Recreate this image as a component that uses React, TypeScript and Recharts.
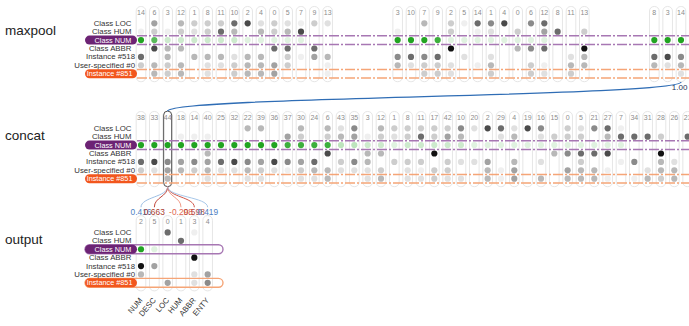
import React from "react";
import { ScatterChart, Scatter, XAxis, YAxis, ReferenceArea, ReferenceLine } from "recharts";

const rowLabels = ["Class LOC", "Class HUM", "Class NUM", "Class ABBR", "Instance #518", "User-specified #0", "Instance #851"];

// maxpool units come in three groups
const maxpoolUnits = [
  [14, 6, 3, 12, 1, 8, 11, 10, 2, 4, 0, 5, 7, 9, 13],
  [3, 10, 7, 9, 2, 5, 14, 1, 4, 0, 6, 12, 8, 11, 13],
  [8, 3, 14],
];
// shade level 0 (no dot) .. 9 (strongest), one row per label
const maxpoolLevels = [
  [0, 5, 0, 4, 3, 3, 3, 7, 8, 2, 3, 2, 1, 3, 2, 0, 0, 4, 0, 3, 1, 7, 6, 8, 0, 6, 7, 0, 0, 0, 0, 0, 0],
  [1, 3, 1, 3, 2, 3, 7, 4, 0, 4, 3, 4, 8, 0, 0, 1, 0, 0, 0, 3, 0, 1, 2, 0, 3, 0, 5, 7, 0, 3, 0, 0, 0],
  [9, 7, 2, 2, 2, 2, 2, 2, 1, 1, 1, 1, 1, 0, 0, 9, 9, 9, 8, 1, 1, 1, 1, 1, 1, 1, 1, 0, 0, 0, 9, 9, 9],
  [0, 8, 4, 4, 0, 0, 0, 0, 0, 0, 7, 7, 0, 7, 0, 0, 0, 0, 0, 9, 0, 0, 0, 0, 4, 6, 7, 0, 0, 9, 0, 0, 0],
  [7, 0, 4, 0, 4, 4, 4, 2, 4, 4, 0, 3, 1, 5, 4, 6, 7, 6, 7, 0, 2, 0, 2, 0, 0, 0, 0, 0, 2, 4, 7, 8, 6],
  [3, 4, 3, 4, 0, 2, 2, 3, 4, 4, 5, 3, 0, 0, 1, 4, 2, 3, 3, 2, 0, 1, 4, 0, 0, 3, 1, 0, 4, 4, 4, 2, 4],
  [0, 4, 3, 4, 0, 2, 0, 3, 4, 4, 5, 0, 0, 0, 1, 0, 0, 3, 3, 2, 0, 0, 3, 0, 0, 3, 2, 0, 3, 0, 0, 0, 2],
];

const concatUnits = [38, 33, 44, 18, 14, 40, 25, 32, 22, 39, 36, 37, 30, 24, 6, 43, 35, 3, 12, 1, 8,
  11, 17, 42, 10, 20, 2, 29, 4, 19, 16, 15, 0, 5, 21, 27, 7, 34, 31, 28, 26, 23];
const concatLevels = [
  [0, 0, 0, 0, 0, 0, 0, 0, 4, 4, 0, 0, 4, 0, 4, 2, 6, 0, 4, 3, 3, 3, 3, 3, 6, 2, 8, 7, 2, 8, 6, 0, 3, 2, 6, 7, 1, 0, 0, 0, 0, 0],
  [0, 0, 0, 1, 1, 1, 0, 0, 0, 0, 0, 5, 3, 0, 3, 4, 5, 1, 3, 2, 3, 7, 3, 5, 4, 0, 0, 2, 4, 0, 2, 3, 3, 3, 0, 4, 7, 7, 7, 3, 0, 7],
  [9, 9, 9, 9, 9, 9, 9, 9, 9, 9, 9, 8, 8, 8, 8, 3, 3, 2, 2, 1, 2, 2, 2, 2, 2, 1, 1, 1, 1, 1, 1, 1, 1, 1, 1, 1, 1, 0, 0, 0, 0, 0],
  [0, 0, 0, 0, 0, 4, 0, 0, 0, 0, 0, 0, 0, 0, 8, 0, 0, 4, 4, 0, 0, 0, 9, 0, 0, 0, 0, 0, 0, 0, 0, 4, 6, 7, 7, 8, 0, 0, 0, 9, 0, 0],
  [7, 8, 6, 5, 6, 5, 7, 8, 6, 5, 8, 6, 5, 7, 0, 3, 6, 4, 0, 3, 3, 3, 0, 3, 2, 2, 5, 0, 4, 0, 2, 0, 0, 3, 0, 0, 1, 6, 0, 4, 2, 0],
  [3, 2, 5, 4, 3, 4, 2, 2, 4, 3, 2, 1, 3, 4, 4, 2, 2, 2, 3, 0, 2, 1, 3, 3, 0, 0, 4, 1, 5, 0, 0, 0, 5, 4, 4, 1, 0, 0, 2, 4, 4, 0],
  [0, 0, 4, 0, 0, 2, 0, 0, 2, 2, 0, 0, 2, 2, 4, 0, 0, 2, 4, 0, 2, 2, 3, 2, 2, 0, 4, 1, 5, 0, 4, 0, 4, 4, 4, 1, 0, 1, 4, 3, 4, 0],
];

const outputUnits = [2, 5, 0, 1, 3, 4];
const outputClasses = ["NUM", "DESC", "LOC", "HUM", "ABBR", "ENTY"];
const outputLevels = [
  [0, 0, 7, 0, 1, 0],
  [0, 0, 0, 7, 0, 0],
  [9, 1, 0, 0, 0, 0],
  [0, 0, 0, 0, 9, 0],
  [9, 5, 0, 0, 0, 0],
  [4, 0, 0, 0, 2, 5],
  [0, 0, 5, 0, 2, 6],
];
// weights from the selected concat unit into each output unit
const outputWeights = [0.416, 0.663, null, -0.298, 0.598, 0.419];

const selectedConcatUnit = 44;
const maxpoolLinkValue = "1.00";

// ---- layout ----
const W = 689;
const H = 326;
const COL = 13.333;
const ROW = 8.4;
const X0 = 141;
const Y0 = 23.3;
const GROUP_STEP = 19.25;
const BASE = { maxpool: 0, concat: 12.5, output: 24.9 };

const GRAY = ["", "#efefef", "#e0e0e0", "#cdcdcd", "#b8b8b8", "#a2a2a2", "#8a8a8a", "#6c6c6c", "#4a4a4a", "#111111"];
const GREEN = ["", "#e0f2e0", "#cdeacd", "#bde4bd", "#a6daa6", "#8ccf8c", "#72c472", "#5bba5b", "#3daf3d", "#22a422"];
const PURPLE = "#6c2374";
const PURPLE_LINE = "#a777b3";
const ORANGE = "#f2561d";
const ORANGE_LINE = "#f5a577";
const FONT = "'Liberation Sans', Arial, sans-serif";

const maxpoolX = maxpoolUnits.flatMap((g, gi) => g.map((_, j) => gi * GROUP_STEP + j));
const concatX = concatUnits.map((_, i) => i);
const outputX = outputUnits.map((_, i) => i);
const labelX = (135 - X0) / COL;

const panels = [
  { name: "maxpool", base: BASE.maxpool, xs: maxpoolX, units: maxpoolUnits.flat(), levels: maxpoolLevels },
  { name: "concat", base: BASE.concat, xs: concatX, units: concatUnits, levels: concatLevels },
  { name: "output", base: BASE.output, xs: outputX, units: outputUnits, levels: outputLevels },
];

const dots: any[] = [];
const texts: any[] = [];
panels.forEach((p) => {
  p.levels.forEach((row, r) =>
    row.forEach((lv, c) => {
      if (lv > 0) dots.push({ x: p.xs[c], y: p.base + r, fill: r === 2 ? GREEN[lv] : GRAY[lv] });
    })
  );
  p.units.forEach((u, i) => texts.push({ x: p.xs[i], y: p.base - 1.25, text: String(u), kind: "head" }));
  rowLabels.forEach((l, r) =>
    texts.push({ x: labelX, y: p.base + r, text: l, kind: "row", box: r === 2 ? PURPLE : r === 6 ? ORANGE : null })
  );
  texts.push({ x: (5 - X0) / COL, y: p.base + 0.85, text: p.name, kind: "title" });
});
outputClasses.forEach((c, i) => texts.push({ x: outputX[i] + 0.15, y: BASE.output + 8.1, text: c, kind: "class" }));
const weightColors = ["#4d80c2", "#a93a2f", "#e58a74", "#e06650", "#b84a3c", "#4d80c2"];
const weightLines = ["#9dbfe4", "#c0463a", "#f6c0b0", "#f09a86", "#d0574a", "#a8c8ea"];
outputWeights.forEach((w, i) => {
  if (w !== null) texts.push({ x: outputX[i], y: BASE.output - 2.43, text: w.toFixed(3), kind: "weight", color: weightColors[i] });
});
const selIdx = concatUnits.indexOf(selectedConcatUnit);
const linkTarget = maxpoolX[maxpoolX.length - 1];
texts.push({ x: linkTarget - 0.1, y: BASE.maxpool + 7.7, text: maxpoolLinkValue, kind: "link" });

const Dot = (p: any) => <circle cx={p.cx} cy={p.cy} r={3.1} fill={p.payload.fill} />;

const TextMark = (p: any) => {
  const d = p.payload;
  const { cx, cy } = p;
  if (d.kind === "head")
    return <text x={cx} y={cy} fontSize={7} fill="#8c8c8c" textAnchor="middle" dominantBaseline="central" fontFamily={FONT}>{d.text}</text>;
  if (d.kind === "title")
    return <text x={cx} y={cy} fontSize={13.5} fill="#222" dominantBaseline="central" fontFamily={FONT}>{d.text}</text>;
  if (d.kind === "class")
    return <text x={cx} y={cy} fontSize={7.8} fill="#333" textAnchor="end" fontFamily={FONT} transform={`rotate(-50 ${cx} ${cy})`}>{d.text}</text>;
  if (d.kind === "weight")
    return <text x={cx} y={cy} fontSize={8.4} fill={d.color} textAnchor="middle" dominantBaseline="central" fontFamily={FONT}>{d.text}</text>;
  if (d.kind === "link")
    return <text x={cx} y={cy} fontSize={8} fill="#1f3558" textAnchor="middle" dominantBaseline="central" fontFamily={FONT}>{d.text}</text>;
  const dx = d.text.startsWith("Class") ? -3.6 : d.box ? -2.5 : 0;
  return (
    <g>
      {d.box && <rect x={cx - 50} y={cy - 4.5} width={52} height={9} rx={4.5} fill={d.box} />}
      <text x={cx + dx} y={cy} fontSize={d.box ? 7.3 : 7.8} fill={d.box ? "#fff" : "#333"} textAnchor="end" dominantBaseline="central" fontFamily={FONT}>{d.text}</text>
    </g>
  );
};

const curve = (color: string, width: number) => (p: any) => {
  const { x1, y1, x2, y2 } = p;
  const m = (y1 + y2) / 2;
  return <path d={`M${x1},${y1} C${x1},${m} ${x2},${m} ${x2},${y2}`} fill="none" stroke={color} strokeWidth={width} />;
};

const colBox = (stroke: string) => (p: any) => (
  <rect x={p.x} y={p.y} width={p.width} height={p.height} rx={Math.min(4.5, p.width / 2)} fill="none" stroke={stroke} strokeWidth={1} />
);

const bandBox = (stroke: string) => (p: any) => (
  <rect x={p.x} y={p.y} width={p.width} height={p.height} rx={4.5} fill="none" stroke={stroke} strokeWidth={1.4} />
);

export default function App() {
  const xMin = -X0 / COL;
  const xMax = (W - X0) / COL;
  const yMin = -Y0 / ROW;
  const yMax = (H - Y0) / ROW;
  const lineStart = (137 - X0) / COL;
  const outBandEnd = (223 - X0) / COL;

  return (
    <div style={{ position: "absolute", left: 0, top: 0, background: "#fff" }}>
      <ScatterChart width={W} height={H} margin={{ top: 0, right: 0, bottom: 0, left: 0 }}>
        <XAxis type="number" dataKey="x" domain={[xMin, xMax]} allowDataOverflow hide />
        <YAxis type="number" dataKey="y" domain={[yMin, yMax]} allowDataOverflow reversed hide />

        {panels.map((p) =>
          p.xs.map((x, i) => (
            <ReferenceArea
              key={`${p.name}-box-${i}`}
              x1={x - 0.36}
              x2={x + 0.36}
              y1={p.base - 2.0}
              y2={p.base + 6.95}
              ifOverflow="visible"
              shape={colBox("#e6e6e6")}
            />
          ))
        )}
        <ReferenceArea
          x1={concatX[selIdx] - 0.3}
          x2={concatX[selIdx] + 0.3}
          y1={BASE.concat - 2.05}
          y2={BASE.concat + 6.95}
          ifOverflow="visible"
          shape={colBox("#555")}
        />

        {[BASE.maxpool, BASE.concat].map((b) =>
          [
            [b + 2 - 0.51, PURPLE_LINE],
            [b + 2 + 0.51, PURPLE_LINE],
            [b + 6 - 0.51, ORANGE_LINE],
            [b + 6 + 0.51, ORANGE_LINE],
          ].map(([y, c], k) => (
            <ReferenceLine
              key={`band-${b}-${k}`}
              segment={[{ x: lineStart, y: y as number }, { x: xMax, y: y as number }]}
              stroke={c as string}
              strokeWidth={1.5}
              strokeDasharray="10 2 2 2"
              ifOverflow="visible"
            />
          ))
        )}
        <ReferenceArea x1={-4.2} x2={outBandEnd} y1={BASE.output + 2 - 0.53} y2={BASE.output + 2 + 0.53} ifOverflow="visible" shape={bandBox(PURPLE_LINE)} />
        <ReferenceArea x1={-4.2} x2={outBandEnd} y1={BASE.output + 6 - 0.53} y2={BASE.output + 6 + 0.53} ifOverflow="visible" shape={bandBox(ORANGE_LINE)} />

        <ReferenceLine
          segment={[{ x: concatX[selIdx], y: BASE.concat - 2.05 }, { x: linkTarget, y: BASE.maxpool + 7.0 }]}
          ifOverflow="visible"
          shape={curve("#2f6db5", 1.3)}
        />
        {outputWeights.map((w, i) =>
          w === null ? null : (
            <ReferenceLine
              key={`fan-${i}`}
              segment={[{ x: concatX[selIdx], y: BASE.concat + 6.95 }, { x: outputX[i], y: BASE.output - 3.0 }]}
              ifOverflow="visible"
              shape={curve(weightLines[i], 1)}
            />
          )
        )}

        <Scatter data={dots} shape={Dot} isAnimationActive={false} />
        <Scatter data={texts} shape={TextMark} isAnimationActive={false} />
      </ScatterChart>
    </div>
  );
}
